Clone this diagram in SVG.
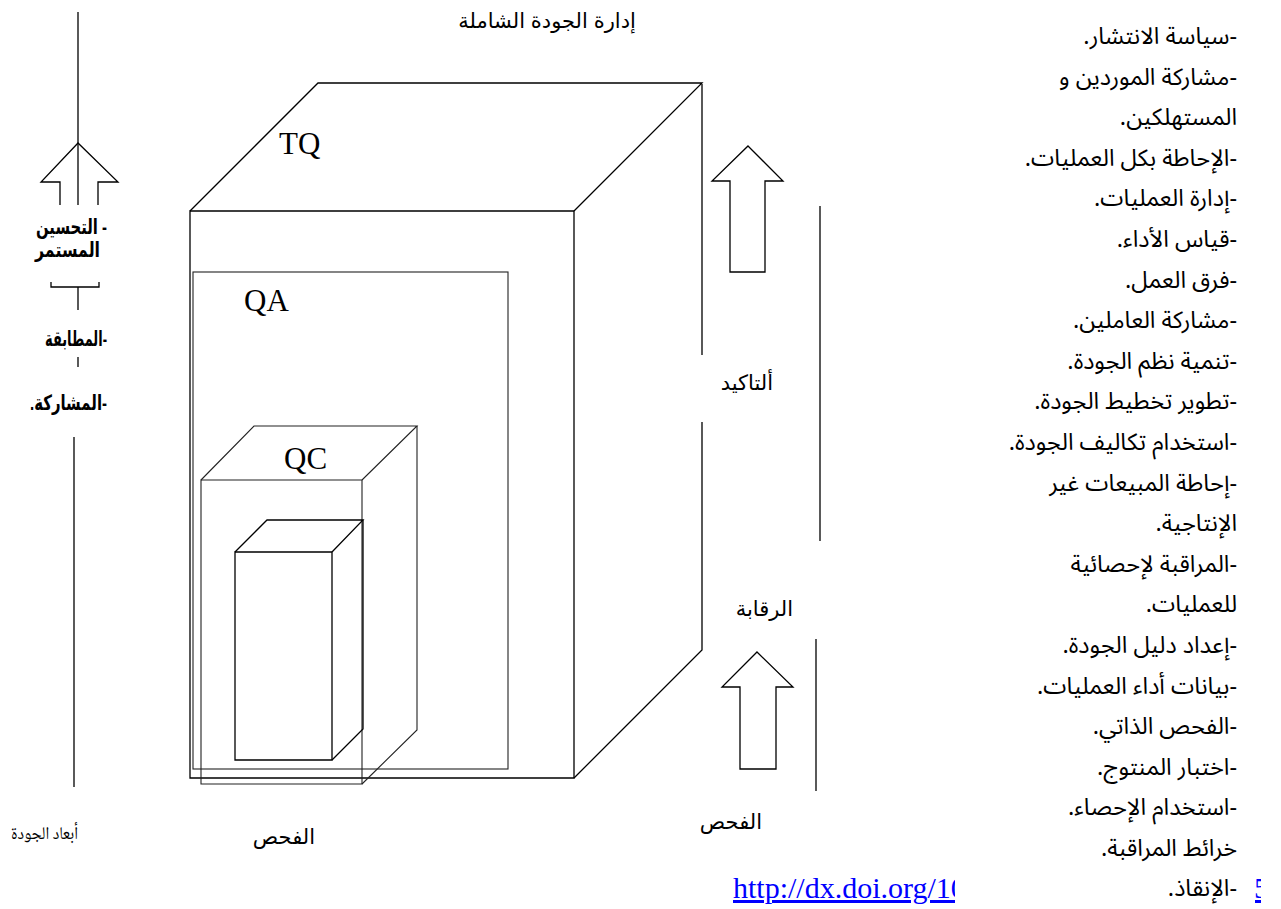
<svg xmlns="http://www.w3.org/2000/svg" width="1281" height="909" viewBox="0 0 1281 909">
<style>
.ln{fill:none;stroke:#000;stroke-width:1.3}
.lt{fill:none;stroke:#222;stroke-width:1.1}
.ar{font-family:"Liberation Sans","DejaVu Sans",sans-serif;font-size:21px;fill:#000}
.arb{font-family:"Liberation Sans","DejaVu Sans",sans-serif;font-size:21px;font-weight:bold;fill:#000}
.col{font-family:"Noto Sans Arabic","Noto Sans","DejaVu Sans",sans-serif;font-size:23.5px;fill:#000}
.lat{font-family:"Liberation Serif","Times New Roman",serif;font-size:31px;fill:#000}
.nask{font-family:"Noto Naskh Arabic","DejaVu Serif",serif;font-size:18px;fill:#000}
.url{font-family:"Liberation Serif",serif;font-size:30px;fill:#00f;text-decoration:underline}
</style>
<defs>
<clipPath id="urlclip"><rect x="700" y="860" width="255" height="49"/></clipPath>
<clipPath id="fragclip"><rect x="1255" y="870" width="6" height="39"/></clipPath>
</defs>

<text class="ar" x="547" y="28" text-anchor="middle" direction="rtl">إدارة الجودة الشاملة</text>

<g id="tq">
<path class="ln" d="M190,211 H574 V778 H190 Z"/>
<path class="ln" d="M190,211 L318,83 H702 L574,211"/>
<path class="ln" d="M702,84 V355 M702,422 V650 L574,778"/>
<text class="lat" x="279" y="154">TQ</text>
</g>

<g id="qa">
<rect class="lt" x="193" y="272" width="315" height="497"/>
<text class="lat" x="244" y="311">QA</text>
</g>

<g id="qc">
<path class="lt" d="M201,480 H362 V784 H201 Z"/>
<path class="lt" d="M201,480 L254,426 H417 L362,480"/>
<path class="lt" d="M417,426 V730 L362,784"/>
<text class="lat" x="284" y="469">QC</text>
</g>

<g id="inner">
<path class="ln" d="M235,552 H332 V760 H235 Z"/>
<path class="ln" d="M235,552 L267,520 H363 L332,552"/>
<path class="ln" d="M363,520 V729 L332,760"/>
</g>

<g id="connectors">
<path class="ln" d="M78,12 V205"/>
<path class="ln" d="M60,205 V182 H41 L78,143 L118,182 H98 V205"/>
<path class="ln" d="M51,282 V287 H99 V282 M78,287 V310"/>
<path class="ln" d="M78,357 V367"/>
<path class="ln" d="M74,437 V787"/>
<path class="ln" d="M748,146 L783,181 H765 V272 H730 V181 H712 Z"/>
<path class="ln" d="M820,206 V541"/>
<path class="ln" d="M757,652 L793,687 H776 V769 H740 V687 H722 Z"/>
<path class="ln" d="M816,639 V791"/>
</g>

<g id="left-labels">
<text class="arb" x="107" y="234" direction="rtl" text-anchor="start" textLength="71" lengthAdjust="spacingAndGlyphs">- التحسين</text>
<text class="arb" x="100" y="257" direction="rtl" text-anchor="start" textLength="65" lengthAdjust="spacingAndGlyphs">المستمر</text>
<text class="arb" x="107" y="346" direction="rtl" text-anchor="start" textLength="62" lengthAdjust="spacingAndGlyphs">-المطابقة</text>
<text class="arb" x="107" y="410" direction="rtl" text-anchor="start" textLength="77" lengthAdjust="spacingAndGlyphs">-المشاركة.</text>
<text class="nask" x="78" y="839" direction="rtl" text-anchor="start" textLength="67" lengthAdjust="spacingAndGlyphs">أبعاد الجودة</text>
</g>

<g id="mid-labels">
<text class="ar" x="773" y="390" direction="rtl" text-anchor="start">ألتاكيد</text>
<text class="ar" x="793" y="616" direction="rtl" text-anchor="start">الرقابة</text>
<text class="ar" x="762" y="829" direction="rtl" text-anchor="start">الفحص</text>
<text class="ar" x="315" y="844" direction="rtl" text-anchor="start">الفحص</text>
</g>

<g id="right-list" class="col" direction="rtl" text-anchor="start">
<text x="1237" y="44">-سياسة الانتشار.</text>
<text x="1237" y="85">-مشاركة الموردين و</text>
<text x="1237" y="125">المستهلكين.</text>
<text x="1237" y="166">-الإحاطة بكل العمليات.</text>
<text x="1237" y="206">-إدارة العمليات.</text>
<text x="1237" y="247">-قياس الأداء.</text>
<text x="1237" y="288">-فرق العمل.</text>
<text x="1237" y="328">-مشاركة العاملين.</text>
<text x="1237" y="369">-تنمية نظم الجودة.</text>
<text x="1237" y="409">-تطوير تخطيط الجودة.</text>
<text x="1237" y="450">-استخدام تكاليف الجودة.</text>
<text x="1237" y="491">-إحاطة المبيعات غير</text>
<text x="1237" y="531">الإنتاجية.</text>
<text x="1237" y="572">-المراقبة لإحصائية</text>
<text x="1237" y="612">للعمليات.</text>
<text x="1237" y="653">-إعداد دليل الجودة.</text>
<text x="1237" y="694">-بيانات أداء العمليات.</text>
<text x="1237" y="734">-الفحص الذاتي.</text>
<text x="1237" y="775">-اختبار المنتوج.</text>
<text x="1237" y="815">-استخدام الإحصاء.</text>
<text x="1237" y="856">خرائط المراقبة.</text>
<text x="1237" y="896">-الإنقاذ.</text>
</g>

<g id="link" clip-path="url(#urlclip)">
<text class="url" x="733" y="898">http://dx.doi.org/10</text>
</g>
<g id="link-frag" clip-path="url(#fragclip)">
<text class="url" x="1254" y="898">5</text>
</g>
</svg>
